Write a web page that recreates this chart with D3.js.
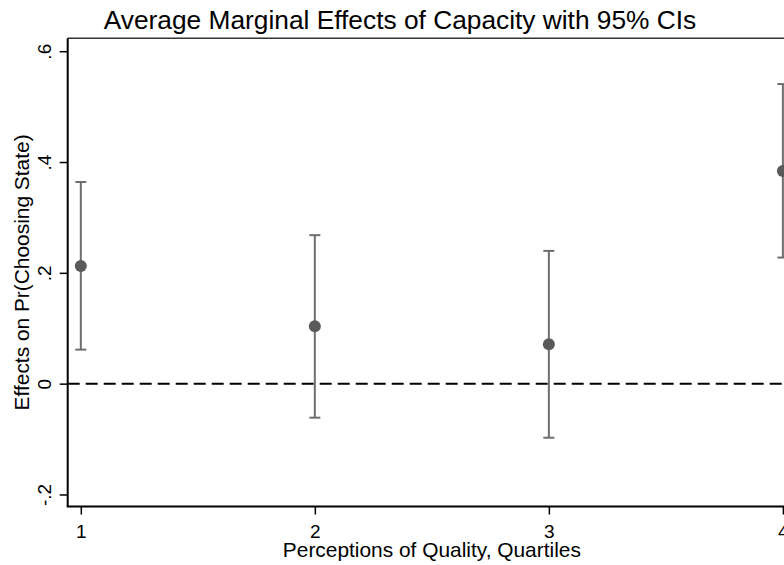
<!DOCTYPE html>
<html>
<head>
<meta charset="utf-8">
<script src="https://cdn.jsdelivr.net/npm/d3@7"></script>
<style>
  html, body { margin: 0; padding: 0; background: #fff; }
  svg { display: block; font-family: "Liberation Sans", Arial, sans-serif; }
</style>
</head>
<body>
<svg id="chart" width="784" height="565"></svg>
<script>
// Quartiles of perceived quality and the estimated marginal effects
const quartiles = [1, 2, 3, 4];
const effects   = [0.2125, 0.1035, 0.071, 0.384];
const ciLower   = [0.0614, -0.0614, -0.0976, 0.2276];
const ciUpper   = [0.364, 0.268, 0.2396, 0.5407];
const yTicks    = [-0.2, 0, 0.2, 0.4, 0.6];
const xTicks    = [1, 2, 3, 4];

const svg = d3.select("#chart");

// Plot region (extends past the right edge of the canvas)
const plotL = 67.7, plotR = 796, plotT = 38.3, plotB = 506.5;

const x = d3.scaleLinear().domain([0.944, 4.056]).range([plotL, plotR]);
const y = d3.scaleLinear().domain([-0.2217, 0.6233]).range([plotB, plotT]);

const fmt = v => v === 0 ? "0" : (v < 0 ? "-" : "") + String(Math.abs(+v.toFixed(1))).replace(/^0/, "");

// Title
svg.append("text")
  .attr("x", 400).attr("y", 29)
  .attr("text-anchor", "middle")
  .attr("font-size", 26.3)
  .attr("fill", "#000")
  .text("Average Marginal Effects of Capacity with 95% CIs");

// Top border of plot region
svg.append("line")
  .attr("x1", plotL).attr("x2", plotR)
  .attr("y1", plotT).attr("y2", plotT)
  .attr("stroke", "#333").attr("stroke-width", 1.5);

// Zero reference line
svg.append("line")
  .attr("x1", plotL).attr("x2", plotR)
  .attr("y1", y(0)).attr("y2", y(0))
  .attr("stroke", "#000").attr("stroke-width", 2)
  .attr("stroke-dasharray", "12,6");

// Y axis
const yAxis = d3.axisLeft(y).tickValues(yTicks).tickSize(8).tickFormat(fmt);
const gy = svg.append("g").attr("transform", `translate(${plotL},0)`).call(yAxis);
gy.select(".domain").attr("stroke", "#000").attr("stroke-width", 2).attr("d", `M0,${plotT}V${plotB}`);
gy.selectAll(".tick line").attr("stroke", "#000").attr("stroke-width", 1.5);
gy.selectAll(".tick text")
  .attr("font-size", 19).attr("fill", "#000")
  .attr("font-family", "Liberation Sans, Arial, sans-serif")
  .attr("text-anchor", "middle")
  .attr("dy", null)
  .attr("x", null)
  .attr("transform", "translate(-16.5,0) rotate(-90)")
  .attr("y", 0);

// X axis
const xAxis = d3.axisBottom(x).tickValues(xTicks).tickSize(8).tickFormat(d3.format("d"));
const gx = svg.append("g").attr("transform", `translate(0,${plotB})`).call(xAxis);
gx.select(".domain").attr("stroke", "#000").attr("stroke-width", 2).attr("d", `M${plotL - 1},0H${plotR}`);
gx.selectAll(".tick line").attr("stroke", "#000").attr("stroke-width", 1.5);
gx.selectAll(".tick text")
  .attr("font-size", 19).attr("fill", "#000")
  .attr("font-family", "Liberation Sans, Arial, sans-serif")
  .attr("dy", null)
  .attr("y", 538 - plotB);

// Axis titles
svg.append("text")
  .attr("x", (plotL + plotR) / 2).attr("y", 557)
  .attr("text-anchor", "middle")
  .attr("font-size", 20.9).attr("fill", "#000")
  .text("Perceptions of Quality, Quartiles");

svg.append("text")
  .attr("transform", `translate(28.5,${(plotT + plotB) / 2}) rotate(-90)`)
  .attr("text-anchor", "middle")
  .attr("font-size", 20.9).attr("fill", "#000")
  .text("Effects on Pr(Choosing State)");

// Confidence intervals
const rows = quartiles.map((q, i) => ({ q, est: effects[i], lo: ciLower[i], hi: ciUpper[i] }));
const capW = 5.5;
const bars = svg.append("g").attr("stroke", "#6e6e6e").attr("stroke-width", 2);
rows.forEach(d => {
  bars.append("line").attr("x1", x(d.q)).attr("x2", x(d.q)).attr("y1", y(d.lo)).attr("y2", y(d.hi));
  bars.append("line").attr("x1", x(d.q) - capW).attr("x2", x(d.q) + capW).attr("y1", y(d.lo)).attr("y2", y(d.lo));
  bars.append("line").attr("x1", x(d.q) - capW).attr("x2", x(d.q) + capW).attr("y1", y(d.hi)).attr("y2", y(d.hi));
});

// Point estimates
svg.append("g").selectAll("circle").data(rows).join("circle")
  .attr("cx", d => x(d.q)).attr("cy", d => y(d.est))
  .attr("r", 6).attr("fill", "#5a5a5a");
</script>
</body>
</html>
